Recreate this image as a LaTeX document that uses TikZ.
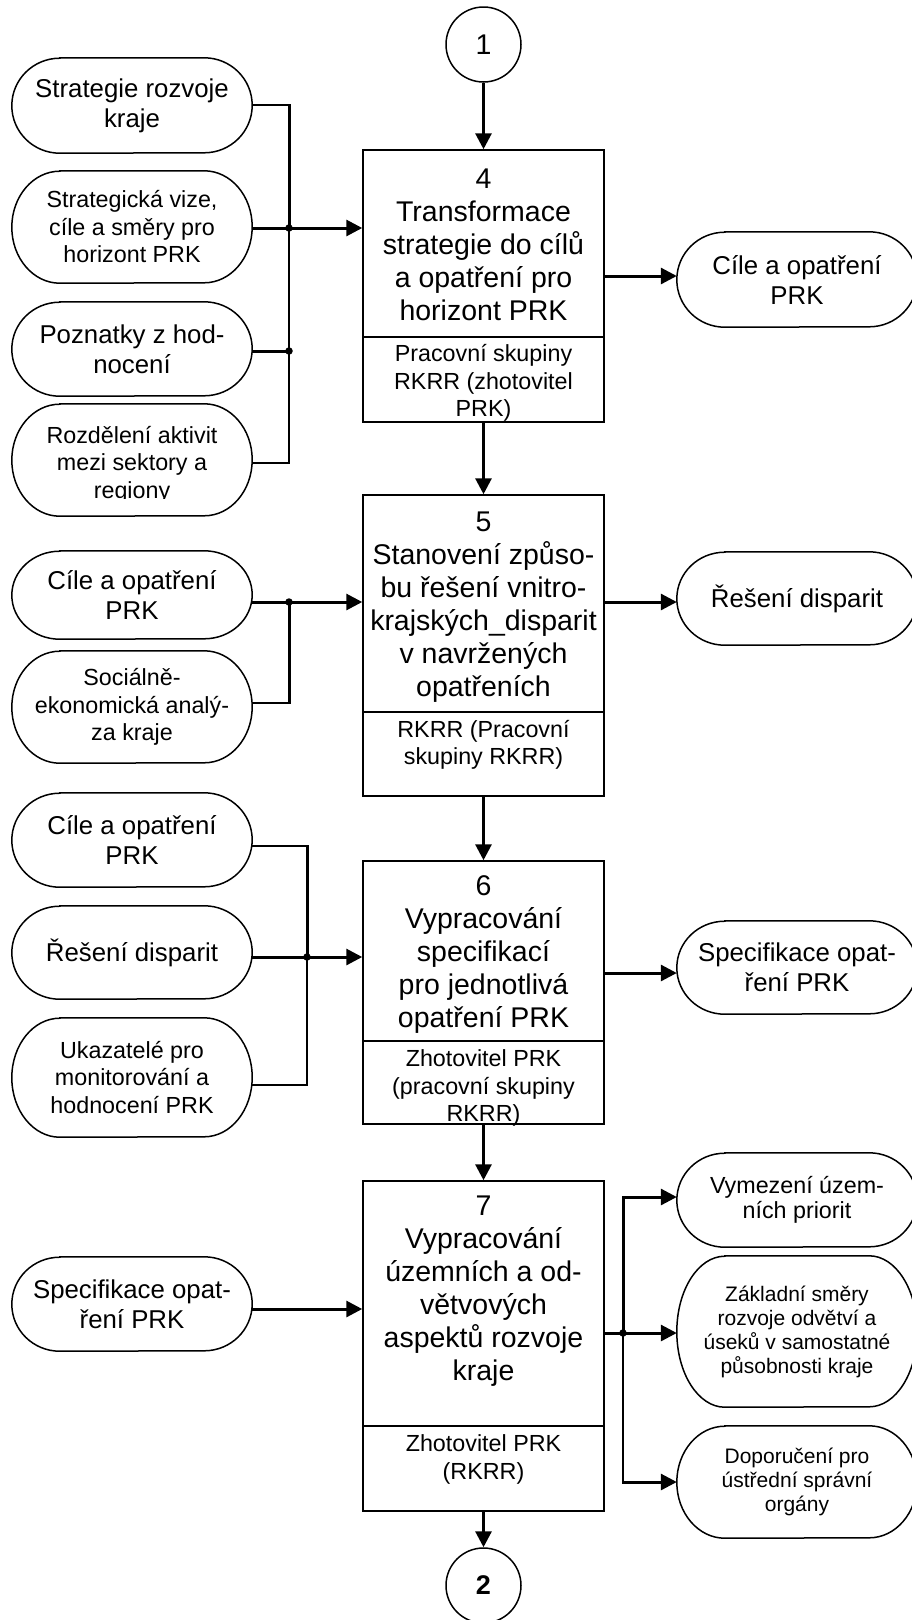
\documentclass[tikz,border=0pt]{standalone}
\usepackage{fontspec}
\setmainfont{Liberation Sans}
\usetikzlibrary{arrows.meta,calc}

% centred lines whose reference point is the baseline of the first line
\newcommand\textlines[1]{\begin{tabular}[t]{@{}c@{}}#1\end{tabular}}

% terminal (stadium) node with elliptical ends: name, cx, cy, height, style, text
\newcommand\terminal[6]{%
  \node[termtext,#5,minimum height=#4pt] (#1) at (#2,-#3) {#6};
  \draw[outline] ($(#1.north west)+(48pt,0)$) -- ($(#1.north east)+(-48pt,0)$)
    arc[start angle=90,end angle=-90,x radius=48pt,y radius=#4pt/2]
    -- ($(#1.south west)+(48pt,0)$)
    arc[start angle=270,end angle=90,x radius=48pt,y radius=#4pt/2] -- cycle;}

\begin{document}
\begin{tikzpicture}[x=1pt,y=1pt,
  outline/.style={line width=1.5pt},
  procbox/.style={draw, outline, rectangle, minimum width=241pt, inner sep=0pt},
  headtext/.style={font=\fontsize{28.5}{33}\selectfont, anchor=base, inner sep=0pt},
  roletext/.style={font=\fontsize{23.3}{27.5}\selectfont, anchor=base, inner sep=0pt},
  termtext/.style={align=center, inner sep=0pt, minimum width=240pt},
  termbig/.style={font=\fontsize{25.8}{30}\selectfont},
  termmid/.style={font=\fontsize{23.3}{27.5}\selectfont},
  termsmall/.style={font=\fontsize{21}{24}\selectfont},
  flow/.style={line width=3pt},
  flowarrow/.style={line width=3pt, -{Triangle[length=16pt,width=16pt]}},
  feed/.style={line width=1.3pt},
  joint/.style={circle, fill, inner sep=0pt, minimum size=7.5pt},
  connector/.style={circle, draw, outline, minimum size=75pt, inner sep=0pt},
]
\useasboundingbox (0,0) rectangle (912,-1620);

% ---------- connectors to the previous and next sheet ----------
\node[connector, font=\fontsize{28.5}{33}\selectfont] (c1) at (483.5,-44.5) {1};
\node[connector, font=\fontsize{27}{30}\selectfont\bfseries] (c2) at (483.5,-1585.5) {2};

% ---------- process boxes ----------
\node[procbox, minimum height=187pt] (b4)  at (483.5,-243.5) {};
\node[procbox, minimum height=85pt]  (b4s) at (483.5,-379.5) {};
\node[headtext] (b4t) at (483.5,-188.5) {\textlines{4\\Transformace\\strategie do cílů\\a opatření pro\\horizont PRK}};
\node[roletext] (b4st) at (483.5,-361.5) {\textlines{Pracovní skupiny\\RKRR (zhotovitel\\PRK)}};

\node[procbox, minimum height=217pt] (b5)  at (483.5,-603.5) {};
\node[procbox, minimum height=84pt]  (b5s) at (483.5,-754) {};
\node[headtext] (b5t) at (483.5,-531) {\textlines{5\\Stanovení způso-\\bu řešení vnitro-\\krajských\_disparit\\v navržených\\opatřeních}};
\node[roletext] (b5st) at (483.5,-737) {\textlines{RKRR (Pracovní\\skupiny RKRR)}};

\node[procbox, minimum height=180pt] (b6)  at (483.5,-951) {};
\node[procbox, minimum height=83pt]  (b6s) at (483.5,-1082.5) {};
\node[headtext] (b6t) at (483.5,-895.5) {\textlines{6\\Vypracování\\specifikací\\pro jednotlivá\\opatření PRK}};
\node[roletext] (b6st) at (483.5,-1066.5) {\textlines{Zhotovitel PRK\\(pracovní skupiny\\RKRR)}};

\node[procbox, minimum height=245pt] (b7)  at (483.5,-1303.5) {};
\node[procbox, minimum height=85pt]  (b7s) at (483.5,-1468.5) {};
\node[headtext] (b7t) at (483.5,-1215) {\textlines{7\\Vypracování\\územních a od-\\větvových\\aspektů rozvoje\\kraje}};
\node[roletext] (b7st) at (483.5,-1451.5) {\textlines{Zhotovitel PRK\\(RKRR)}};

% ---------- inputs on the left ----------
\terminal{o1}{132}{105.5}{95}{termbig}{Strategie rozvoje\\kraje}
\terminal{o2}{132}{227}{112}{termmid}{Strategická vize,\\cíle a směry pro\\horizont PRK}
\terminal{o3}{132}{349}{94}{termbig}{Poznatky z hod-\\nocení}
\terminal{o4}{132}{460}{112}{termmid}{}
\begin{scope}
  \clip (10,-402) rectangle (254,-498.5);
  \node[roletext] (o4t) at (132,-443) {\textlines{Rozdělení aktivit\\mezi sektory a\\regiony}};
\end{scope}

\terminal{o5}{132}{595}{88}{termbig}{Cíle a opatření\\PRK}
\terminal{o6}{132}{707}{112}{termmid}{Sociálně-\\ekonomická analý-\\za kraje}

\terminal{o7}{132}{840}{94}{termbig}{Cíle a opatření\\PRK}
\terminal{o8}{132}{952.5}{93}{termbig}{Řešení disparit}
\terminal{o9}{132}{1077.5}{119}{termmid}{Ukazatelé pro\\monitorování a\\hodnocení PRK}

\terminal{o10}{132}{1304}{94}{termbig}{Specifikace opat-\\ření PRK}

% ---------- outputs on the right ----------
\terminal{r1}{797}{279.5}{95}{termbig}{Cíle a opatření\\PRK}
\terminal{r2}{797}{598.5}{93}{termbig}{Řešení disparit}
\terminal{r3}{797}{967.5}{93}{termbig}{Specifikace opat-\\ření PRK}
\terminal{r4}{797}{1200}{94}{termmid, font=\fontsize{23.3}{25}\selectfont}{Vymezení územ-\\ních priorit}
\terminal{r5}{797}{1331.5}{151}{termsmall}{Základní směry\\rozvoje odvětví a\\úseků v samostatné\\působnosti kraje}
\terminal{r6}{797}{1482}{112}{termsmall}{Doporučení pro\\ústřední správní\\orgány}

% ---------- main flow ----------
\draw[flowarrow] (c1.south) -- (b4.north);
\draw[flowarrow] (b4s.south) -- (b5.north);
\draw[flowarrow] (b5s.south) -- (b6.north);
\draw[flowarrow] (b6s.south) -- (b7.north);
\draw[flowarrow] (b7s.south) -- (c2.north);

% ---------- inputs of step 4 ----------
\coordinate (j1t) at (289,-105);
\coordinate (j1)  at (289,-228);
\coordinate (j2)  at (289,-351);
\coordinate (j1b) at (289,-463);
\draw[feed] (o1.east |- j1t) -- ([xshift=1.5pt]j1t);
\draw[flow] (j1t) -- (j1);
\draw[flow] (o2.east |- j1) -- (j1);
\draw[feed] (j1) -- (j1b) -- (o4.east |- j1b);
\draw[flow] (o3.east |- j2) -- (j2);
\draw[flowarrow] (j1) -- (j1 -| b4.west);
\node[joint] (d1) at (j1) {};
\node[joint] (d2) at (j2) {};

% ---------- inputs of step 5 ----------
\coordinate (j3)  at (289,-602);
\coordinate (j3b) at (289,-703);
\draw[flow] (o5.east |- j3) -- (j3);
\draw[flow] (j3) -- (j3b);
\draw[feed] (o6.east |- j3b) -- ([xshift=1.5pt]j3b);
\draw[flowarrow] (j3) -- (j3 -| b5.west);
\node[joint] (d3) at (j3) {};

% ---------- inputs of step 6 ----------
\coordinate (j4t) at (307,-846);
\coordinate (j4)  at (307,-957);
\coordinate (j4b) at (307,-1085);
\draw[feed] (o7.east |- j4t) -- ([xshift=1.5pt]j4t);
\draw[flow] (j4t) -- (j4);
\draw[flow] (o8.east |- j4) -- (j4);
\draw[feed] (j4) -- (j4b) -- (o9.east |- j4b);
\draw[flowarrow] (j4) -- (j4 -| b6.west);
\node[joint] (d4) at (j4) {};

% ---------- input of step 7 ----------
\coordinate (k7) at (300,-1309);
\draw[flowarrow] (o10.east |- k7) -- (k7 -| b7.west);

% ---------- outputs of steps 4 to 6 ----------
\coordinate (x4) at (604,-276);
\coordinate (x5) at (604,-602);
\coordinate (x6) at (604,-973);
\draw[flowarrow] (x4) -- (x4 -| r1.west);
\draw[flowarrow] (x5) -- (x5 -| r2.west);
\draw[flowarrow] (x6) -- (x6 -| r3.west);

% ---------- outputs of step 7 ----------
\coordinate (j5t) at (623,-1197);
\coordinate (j5)  at (623,-1333);
\coordinate (j5b) at (623,-1482);
\draw[flow] (b7.east |- j5) -- (j5);
\draw[flowarrow] (j5) -- (j5 -| r5.west);
\draw[flowarrow] (j5) -- (j5t) -- (j5t -| r4.west);
\draw[feed] (j5) -- (j5b);
\draw[flowarrow] ([xshift=-0.65pt]j5b) -- (j5b -| r6.west);
\node[joint] (d5) at (j5) {};
\end{tikzpicture}
\end{document}
